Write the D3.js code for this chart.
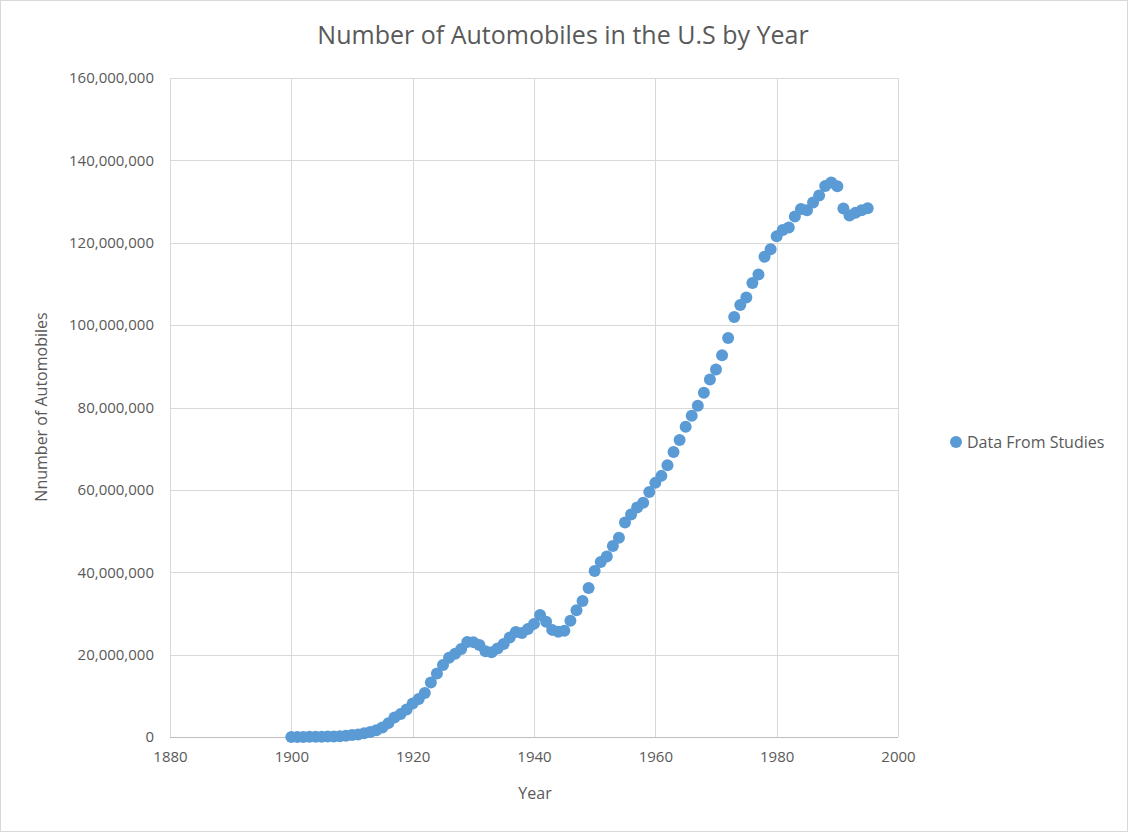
<!DOCTYPE html>
<html>
<head>
<meta charset="utf-8">
<script src="https://cdn.jsdelivr.net/npm/d3@7"></script>
<style>
  body { margin: 0; background: #fff; }
  text { font-family: "Open Sans", sans-serif; fill: #595959; }
</style>
</head>
<body>
<svg id="chart" width="1128" height="832"></svg>
<script>
// years 1900..1995
var years = d3.range(1900, 1996);
var cars = [
  8000, 14800, 23000, 32900, 54600, 77400, 105900, 140300, 194400, 306000,
  458400, 618700, 901600, 1190400, 1664000, 2332400, 3367900, 4727500, 5555000, 6679100,
  8131500, 9212200, 10704100, 13253000, 15436100, 17481000, 19268000, 20193300, 21362400, 23060400,
  23034800, 22330400, 20832400, 20586600, 21472100, 22567800, 24182700, 25465600, 25250400, 26226300,
  27465800, 29624300, 27973000, 26009100, 25566200, 25797000, 28200000, 30800000, 33000000, 36200000,
  40300000, 42500000, 43800000, 46400000, 48400000, 52100000, 54000000, 55700000, 56900000, 59500000,
  61700000, 63400000, 66000000, 69200000, 72100000, 75300000, 78000000, 80400000, 83600000, 86800000,
  89200000, 92700000, 96900000, 102000000, 104900000, 106700000, 110200000, 112300000, 116600000, 118400000,
  121600000, 123100000, 123700000, 126400000, 128200000, 127900000, 129800000, 131500000, 133800000, 134600000,
  133700000, 128300000, 126600000, 127300000, 127900000, 128400000
];
var xTicks = [1880, 1900, 1920, 1940, 1960, 1980, 2000];
var yTicks = [0, 20000000, 40000000, 60000000, 80000000, 100000000, 120000000, 140000000, 160000000];
var seriesName = "Data From Studies";

var svg = d3.select("#chart");
var plotL = 170, plotR = 898, plotT = 78, plotB = 737;

svg.append("rect")
  .attr("x", 0.5).attr("y", 0.5)
  .attr("width", 1127).attr("height", 831)
  .attr("fill", "#fff").attr("stroke", "#d9d9d9");

var x = d3.scaleLinear().domain([1880, 2000]).range([plotL, plotR]);
var y = d3.scaleLinear().domain([0, 160000000]).range([plotB, plotT]);

// gridlines
svg.append("g").selectAll("line").data(xTicks).enter().append("line")
  .attr("x1", function (d) { return Math.round(x(d)) + 0.5; })
  .attr("x2", function (d) { return Math.round(x(d)) + 0.5; })
  .attr("y1", plotT).attr("y2", plotB)
  .attr("stroke", "#d9d9d9");
svg.append("g").selectAll("line").data(yTicks).enter().append("line")
  .attr("x1", plotL).attr("x2", plotR)
  .attr("y1", function (d) { return Math.round(y(d)) + 0.5; })
  .attr("y2", function (d) { return Math.round(y(d)) + 0.5; })
  .attr("stroke", function (d) { return d === 0 ? "#bfbfbf" : "#d9d9d9"; });

// axes labels
var fmt = d3.format(",");
var xAxis = svg.append("g").attr("transform", "translate(0," + plotB + ")")
  .call(d3.axisBottom(x).tickValues(xTicks).tickFormat(d3.format("d")).tickSize(0).tickPadding(14));
var yAxis = svg.append("g").attr("transform", "translate(" + plotL + ",0)")
  .call(d3.axisLeft(y).tickValues(yTicks).tickFormat(fmt).tickSize(0).tickPadding(16));
[xAxis, yAxis].forEach(function (a) {
  a.select(".domain").remove();
  a.selectAll("text").style("font-size", "15px").attr("fill", "#595959");
});

// points
svg.append("g").selectAll("circle").data(years).enter().append("circle")
  .attr("cx", function (d) { return x(d); })
  .attr("cy", function (d, i) { return y(cars[i]); })
  .attr("r", 6)
  .attr("fill", "#5b9bd5");

// title + axis titles
svg.append("text").attr("x", 563).attr("y", 44).attr("text-anchor", "middle")
  .style("font-size", "25px").text("Number of Automobiles in the U.S by Year");
svg.append("text").attr("x", 535).attr("y", 799).attr("text-anchor", "middle")
  .style("font-size", "16px").text("Year");
svg.append("text").attr("transform", "translate(47,407) rotate(-90)").attr("text-anchor", "middle")
  .style("font-size", "16px").text("Nnumber of Automobiles");

// legend
svg.append("circle").attr("cx", 956).attr("cy", 442).attr("r", 6).attr("fill", "#5b9bd5");
svg.append("text").attr("x", 967).attr("y", 448).style("font-size", "16px").text(seriesName);
</script>
</body>
</html>
